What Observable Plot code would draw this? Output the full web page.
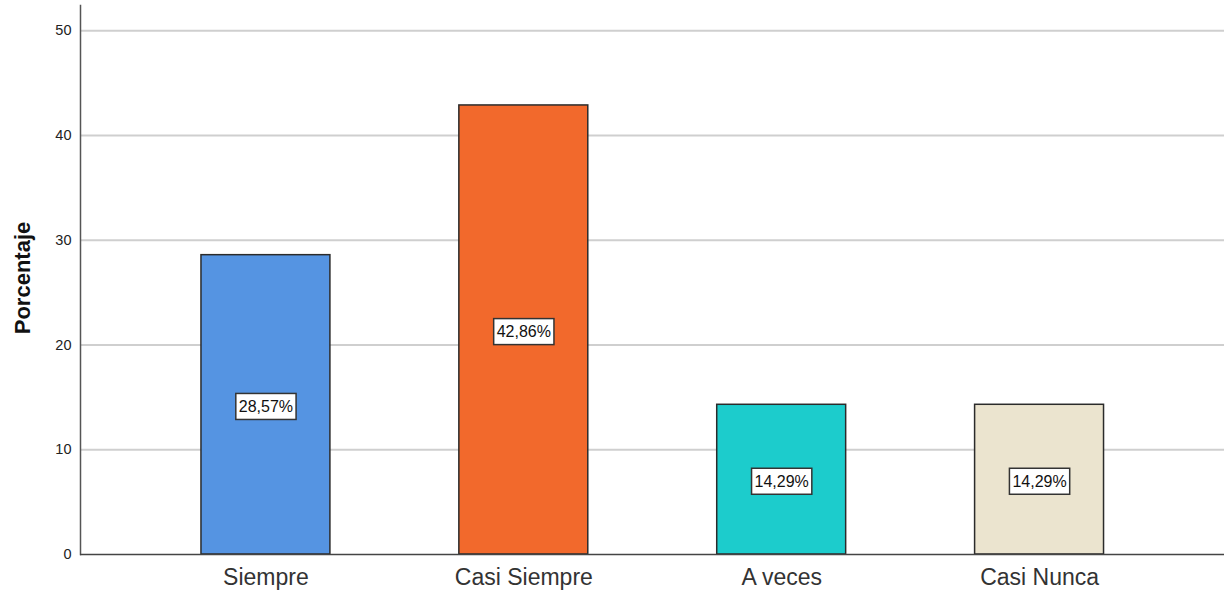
<!DOCTYPE html>
<html>
<head>
<meta charset="utf-8">
<script src="https://cdn.jsdelivr.net/npm/d3@7"></script>
<script src="https://cdn.jsdelivr.net/npm/@observablehq/plot@0.6"></script>
<style>
  html, body { margin: 0; padding: 0; background: #fff; }
  #chart svg { display: block; font-family: "Liberation Sans", Arial, sans-serif; }
</style>
</head>
<body>
<div id="chart"></div>
<script>
// Response categories and their share of answers (%)
const categories = ["Siempre", "Casi Siempre", "A veces", "Casi Nunca"];
const percents = [28.57, 42.86, 14.29, 14.29];
const barColors = ["#5594E2", "#F2692C", "#1CCCCC", "#EBE4CF"];
const yTicks = [0, 10, 20, 30, 40, 50];

const rows = categories.map((c, i) => ({
  category: c,
  value: percents[i],
  label: percents[i].toFixed(2).replace(".", ",") + "%"
}));

const chart = Plot.plot({
  width: 1224,
  height: 590,
  marginLeft: 80,
  marginRight: 0,
  marginTop: 5,
  marginBottom: 36,
  style: { fontFamily: "Liberation Sans, Arial, sans-serif", background: "#fff" },
  x: {
    domain: categories,
    range: [136.5, 1168],
    paddingInner: 0.5,
    paddingOuter: 0.25,
    round: false,
    label: null
  },
  y: { domain: [0, 52.4], label: null },
  color: { domain: categories, range: barColors },
  marks: [
    Plot.gridY(yTicks.slice(1), { stroke: "#cfcfcf", strokeOpacity: 1, strokeWidth: 2 }),
    Plot.axisY(yTicks, {
      tickSize: 0, tickPadding: 9, fontSize: 14.5, fill: "#222", label: null
    }),
    Plot.text(["Porcentaje"], {
      frameAnchor: "left", dx: -58, dy: -2, rotate: -90,
      fontSize: 22, fontWeight: "bold", fill: "#111", textAnchor: "middle"
    }),
    Plot.axisX({
      tickSize: 0, tickPadding: 14, fontSize: 23, fill: "#333", label: null
    }),
    Plot.barY(rows, {
      x: "category", y: "value", fill: "category",
      stroke: "#2b2b2b", strokeWidth: 1.5
    }),
    Plot.frame({ anchor: "left", stroke: "#555", strokeWidth: 1.5 }),
    Plot.ruleY([0], { stroke: "#444", strokeWidth: 1.5 }),
    Plot.text(rows, {
      x: "category", y: d => d.value / 2, text: "label",
      fontSize: 16, fill: "#111", dy: 2
    })
  ]
});

document.getElementById("chart").appendChild(chart);

// Put a white framed box behind each value label (the texts ending in "%")
d3.select(chart).selectAll('g[aria-label="text"] text')
  .filter(function () { return /%$/.test(this.textContent); })
  .each(function () {
    const b = this.getBBox();
    const padX = 3, padY = 4.5;
    const tr = this.getAttribute("transform");
    const rect = document.createElementNS("http://www.w3.org/2000/svg", "rect");
    rect.setAttribute("x", b.x - padX);
    rect.setAttribute("y", b.y - padY);
    rect.setAttribute("width", b.width + 2 * padX);
    rect.setAttribute("height", b.height + 2 * padY);
    rect.setAttribute("fill", "#fff");
    rect.setAttribute("stroke", "#333");
    rect.setAttribute("stroke-width", 1.5);
    if (tr) rect.setAttribute("transform", tr);
    this.parentNode.insertBefore(rect, this);
  });
</script>
</body>
</html>
